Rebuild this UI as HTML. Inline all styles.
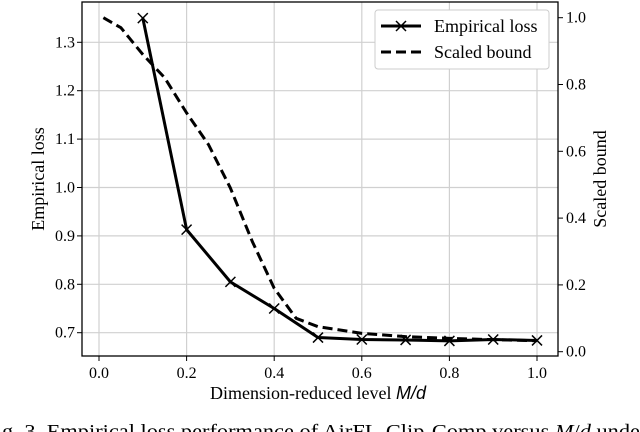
<!DOCTYPE html>
<html><head><meta charset="utf-8">
<style>
html,body{margin:0;padding:0;background:#fff;width:640px;height:432px;overflow:hidden}
svg{display:block;font-family:"Liberation Serif",serif}
</style></head>
<body>
<svg id="chart" width="640" height="432" viewBox="0 0 640 432" xmlns="http://www.w3.org/2000/svg">
<g id="grid"></g>
<g id="series"></g>
<rect x="82" y="2" width="476" height="354" fill="none" stroke="#000" stroke-width="1.3"/>
<g id="axes"></g>
<text x="318" y="399" font-size="18" text-anchor="middle">Dimension-reduced level <tspan font-family="Liberation Sans, sans-serif" font-style="italic">M/d</tspan></text>
<text transform="translate(44,179) rotate(-90)" font-size="18" text-anchor="middle">Empirical loss</text>
<text transform="translate(606,179) rotate(-90)" font-size="18" text-anchor="middle">Scaled bound</text>
<g>
<rect x="375" y="10" width="174" height="59" rx="3" fill="#fff" stroke="#ccc" stroke-width="1"/>
<line x1="381" y1="26" x2="421" y2="26" stroke="#000" stroke-width="3"/>
<path d="M396,21 l10,10 M406,21 l-10,10" stroke="#000" stroke-width="1.5"/>
<text x="434" y="32" font-size="18">Empirical loss</text>
<line x1="381" y1="52" x2="421" y2="52" stroke="#000" stroke-width="3" stroke-dasharray="10,5"/>
<text x="434" y="58" font-size="18">Scaled bound</text>
</g>
<text x="2" y="438" font-size="20" textLength="638" lengthAdjust="spacingAndGlyphs">g. 3.  Empirical loss performance of AirFL-Clip-Comp versus <tspan font-style="italic">M</tspan>/<tspan font-style="italic">d</tspan> unde</text>
</svg>
<script>
const lossX = [0.1,0.2,0.3,0.4,0.5,0.6,0.7,0.8,0.9,1.0];
const lossY = [1.35,0.913,0.805,0.75,0.69,0.686,0.685,0.683,0.686,0.684];
const boundX = [0.01,0.05,0.1,0.15,0.2,0.25,0.3,0.35,0.4,0.45,0.5,0.6,0.7,0.8,0.9,1.0];
const boundY = [1.0,0.97,0.89,0.82,0.715,0.62,0.49,0.33,0.19,0.10,0.075,0.055,0.045,0.04,0.036,0.033];
const xTicks = [0.0,0.2,0.4,0.6,0.8,1.0];
const yLeftTicks = [0.7,0.8,0.9,1.0,1.1,1.2,1.3];
const yRightTicks = [0.0,0.2,0.4,0.6,0.8,1.0];

const NS="http://www.w3.org/2000/svg";
const xS = v => 99 + v*438;
const yL = v => 332.7 - (v-0.7)*484;
const yR = v => 351.7 - v*334;
function mk(tag, attrs, parent){const e=document.createElementNS(NS,tag);for(const k in attrs)e.setAttribute(k,attrs[k]);parent.appendChild(e);return e;}
const grid=document.getElementById('grid'), axes=document.getElementById('axes'), series=document.getElementById('series');
xTicks.forEach(t=>{
  const g=mk('line',{x1:xS(t),x2:xS(t),y1:2,y2:356,stroke:'#d0d0d0','stroke-width':1.2},grid);
  
  
  const tk=mk('line',{x1:xS(t),x2:xS(t),y1:356,y2:361,stroke:'#000'},axes);
  
  
  const tx=mk('text',{x:xS(t),y:378,'font-size':16,'text-anchor':'middle'},axes);
  tx.textContent=t.toFixed(1);
  
  
});
yLeftTicks.forEach(t=>{
  const g=mk('line',{x1:82,x2:558,y1:yL(t),y2:yL(t),stroke:'#d0d0d0','stroke-width':1.2},grid);
  
  
  const tk=mk('line',{x1:77,x2:82,y1:yL(t),y2:yL(t),stroke:'#000'},axes);
  
  
  const tx=mk('text',{x:75,y:yL(t)+5,'font-size':16,'text-anchor':'end'},axes);
  tx.textContent=t.toFixed(1);
  
  
});
yRightTicks.forEach(t=>{
  const tk=mk('line',{x1:558,x2:563,y1:yR(t),y2:yR(t),stroke:'#000'},axes);
  
  
  const tx=mk('text',{x:566,y:yR(t)+5,'font-size':16},axes);
  tx.textContent=t.toFixed(1);
  
  
});
const bp=mk('polyline',{points:boundX.map((x,i)=>xS(x)+','+yR(boundY[i])).join(' '),fill:'none',stroke:'#000','stroke-width':3,'stroke-dasharray':'10,5','stroke-linejoin':'round'},series);


const lp=mk('polyline',{points:lossX.map((x,i)=>xS(x)+','+yL(lossY[i])).join(' '),fill:'none',stroke:'#000','stroke-width':3,'stroke-linejoin':'round'},series);


lossX.forEach((x,i)=>{
  const cx=xS(x), cy=yL(lossY[i]);
  const m=mk('path',{d:`M${cx-5},${cy-5}L${cx+5},${cy+5}M${cx+5},${cy-5}L${cx-5},${cy+5}`,stroke:'#000','stroke-width':1.5},series);
  
  
});
</script>
</body></html>
